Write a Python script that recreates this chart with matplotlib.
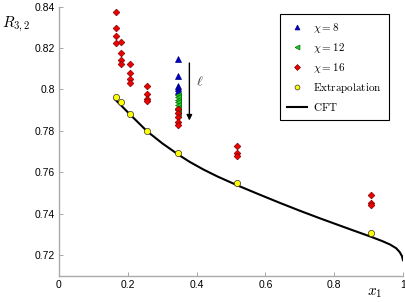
import numpy as np
import matplotlib
matplotlib.use("Agg")
import matplotlib.pyplot as plt
from matplotlib.lines import Line2D

plt.rcParams['font.family'] = ['Liberation Sans', 'DejaVu Sans']
plt.rcParams['mathtext.fontset'] = 'cm'

# chi = 8 / 12 only at x1 = 0.347
x_chi8 = [0.347, 0.347, 0.347, 0.347, 0.347]
y_chi8 = [0.8145, 0.8066, 0.8018, 0.8005, 0.7995]

x_chi12 = [0.347] * 8
y_chi12 = [0.7975, 0.7962, 0.7950, 0.7938, 0.7925, 0.7912, 0.7900, 0.7888]

# chi = 16, several l per x1
x_chi16 = [0.166, 0.166, 0.166, 0.166,
           0.180, 0.180, 0.180, 0.180,
           0.206, 0.206, 0.206, 0.206,
           0.256, 0.256, 0.256, 0.256,
           0.347, 0.347, 0.347, 0.347, 0.347,
           0.518, 0.518, 0.518,
           0.907, 0.907, 0.907]
y_chi16 = [0.8375, 0.8299, 0.8256, 0.8224,
           0.8227, 0.8174, 0.8143, 0.8123,
           0.8125, 0.8080, 0.8053, 0.8032,
           0.8018, 0.7980, 0.7956, 0.7943,
           0.7905, 0.7885, 0.7865, 0.7845, 0.7828,
           0.7728, 0.7693, 0.7680,
           0.7490, 0.7453, 0.7443]

x_extrap = [0.166, 0.179, 0.206, 0.256, 0.347, 0.518, 0.907]
y_extrap = [0.7963, 0.7939, 0.7880, 0.7797, 0.7691, 0.7549, 0.7307]
err_extrap = [0.0008, 0.0007, 0.0006, 0.0006, 0.0007, 0.0005, 0.0008]

# CFT curve
x_cft = [0.163, 0.206, 0.256, 0.3, 0.347, 0.38, 0.42, 0.46, 0.518, 0.58, 0.642, 0.7,
         0.759, 0.85, 0.904, 0.94, 0.962, 0.98, 0.99, 0.997, 1.0]
y_cft = [0.7952, 0.7880, 0.7798, 0.7740, 0.7685, 0.7650, 0.7613, 0.7580, 0.7537, 0.7494,
         0.7452, 0.7414, 0.7377, 0.7322, 0.7290, 0.7267, 0.7251, 0.7233, 0.7215, 0.7195,
         0.7175]

fig = plt.figure(figsize=(4.06, 3.02), dpi=100)
ax = fig.add_axes([59/406, 26.3/302, 344/406, 269/302])

ax.plot(x_cft, y_cft, color='black', lw=1.5, zorder=2)
ax.plot(x_chi8, y_chi8, ls='none', marker='^', ms=4, mfc='#0000cc', mec='#000080',
        mew=0.5, zorder=3)
ax.plot(x_chi12, y_chi12, ls='none', marker='<', ms=4, mfc='#22cc22', mec='#006600',
        mew=0.5, zorder=4)
ax.plot(x_chi16, y_chi16, ls='none', marker='D', ms=3.4, mfc='#ee0000', mec='#800000',
        mew=0.5, zorder=5)
ax.errorbar(x_extrap, y_extrap, yerr=err_extrap, ls='none', marker='o', ms=4.5,
            mfc='#ffff00', mec='#333333', mew=0.5, ecolor='#777777', elinewidth=0.8,
            capsize=1.5, zorder=6)

ax.annotate('', xy=(0.379, 0.7850), xytext=(0.379, 0.8128),
            arrowprops=dict(arrowstyle='-|>', color='black', lw=1.0,
                            mutation_scale=8, shrinkA=0, shrinkB=0))
ax.text(0.41, 0.8040, '$\\ell$', fontsize=10, color='#333333', ha='center', va='center')

ax.set_xlim(0, 1)
ax.set_ylim(0.71, 0.84)
ax.set_xticks([0, 0.2, 0.4, 0.6, 0.8, 1])
ax.set_xticklabels(['0', '0.2', '0.4', '0.6', '0.8', '1'])
ax.set_yticks([0.72, 0.74, 0.76, 0.78, 0.8, 0.82, 0.84])
ax.set_yticklabels(['0.72', '0.74', '0.76', '0.78', '0.8', '0.82', '0.84'])
ax.tick_params(direction='in', length=3, width=0.6, color='#999999', labelsize=7.5, pad=3)
for s in ['top', 'right']:
    ax.spines[s].set_visible(False)
for s in ['left', 'bottom']:
    ax.spines[s].set_color('#aaaaaa')
    ax.spines[s].set_linewidth(1.0)

handles = [
    Line2D([], [], ls='none', marker='^', ms=3.5, mfc='#0000cc', mec='#000080', mew=0.5),
    Line2D([], [], ls='none', marker='<', ms=3.5, mfc='#22cc22', mec='#006600', mew=0.5),
    Line2D([], [], ls='none', marker='D', ms=3, mfc='#ee0000', mec='#800000', mew=0.5),
    Line2D([], [], ls='none', marker='o', ms=3.5, mfc='#ffff00', mec='#333333', mew=0.5),
    Line2D([], [], color='black', lw=1.5),
]
labels = ['$\\chi = 8$', '$\\chi = 12$', '$\\chi = 16$',
          '$\\mathrm{Extrapolation}$', '$\\mathrm{CFT}$']
leg = ax.legend(handles, labels,
                loc='upper right', bbox_to_anchor=(0.959, 0.973), fontsize=8,
                fancybox=False, framealpha=1, edgecolor='black', handlelength=1.8,
                labelspacing=0.55, borderpad=0.6, handletextpad=0.6, borderaxespad=0)
leg.get_frame().set_linewidth(0.8)

fig.text(2/406, 1 - 24/302, '$R_{3,2}$', fontsize=11, ha='left', va='center')
fig.text(375/406, 1 - 293/302, '$x_1$', fontsize=11, ha='center', va='center')

fig.savefig('out.png', dpi=100)
